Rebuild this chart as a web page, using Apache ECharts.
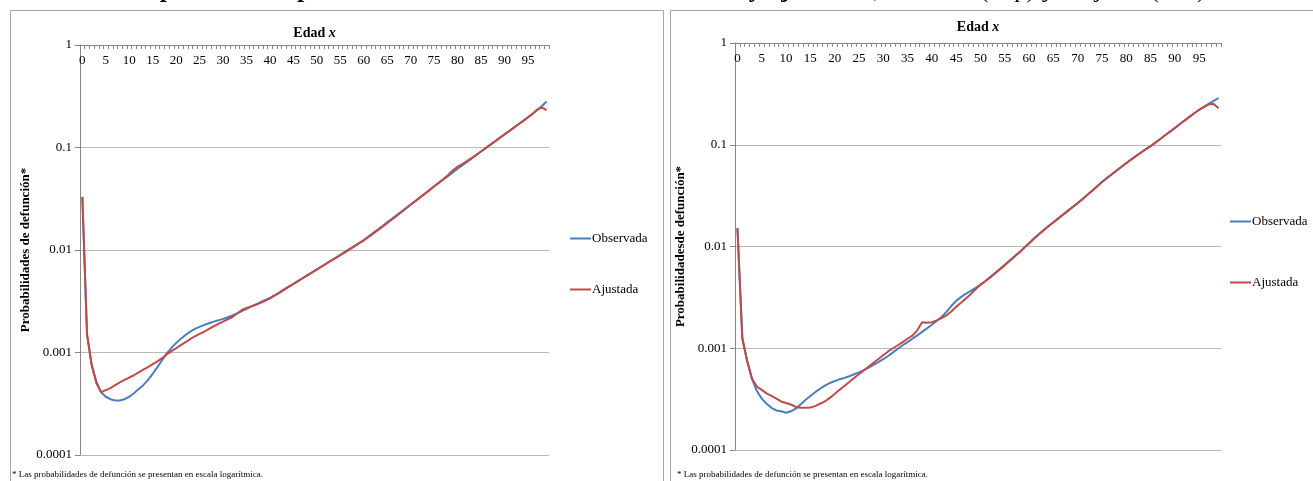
<!DOCTYPE html>
<html>
<head>
<meta charset="utf-8">
<script src="https://cdn.jsdelivr.net/npm/echarts@6/dist/echarts.min.js"></script>
<style>
html,body{margin:0;padding:0;background:#fff;}
#c{width:1313px;height:481px;}
</style>
</head>
<body>
<div id="c"></div>
<script>
// ---------- DATA ----------
const ages = Array.from({length: 100}, (_, i) => String(i));
const yTicks = [1, 0.1, 0.01, 0.001, 0.0001];
const legendNames = ['Observada', 'Ajustada'];

// Left panel
const leftObservada = [
  0.0330, 0.00150, 0.00075, 0.00052, 0.00041, 0.00037, 0.00035, 0.00034, 0.00034, 0.00035,
  0.00037, 0.00040, 0.00044, 0.00048, 0.00054, 0.00062, 0.00072, 0.00084, 0.00098, 0.00111,
  0.00124, 0.00136, 0.00148, 0.00160, 0.00170, 0.00178, 0.00186, 0.00193, 0.00200, 0.00206,
  0.00213, 0.00221, 0.00230, 0.00241, 0.00253, 0.00266, 0.00280, 0.00295, 0.00310, 0.00325,
  0.00340, 0.00362, 0.00386, 0.00412, 0.00440, 0.00468, 0.00500, 0.00533, 0.00568, 0.00606,
  0.00646, 0.00690, 0.00736, 0.00786, 0.00840, 0.00896, 0.00958, 0.01024, 0.01094, 0.01168,
  0.01250, 0.01352, 0.01462, 0.01582, 0.01712, 0.01860, 0.02012, 0.02180, 0.02360, 0.02560,
  0.02780, 0.03010, 0.03260, 0.03530, 0.03830, 0.04160, 0.04510, 0.04880, 0.05280, 0.05720,
  0.06200, 0.06700, 0.07240, 0.07830, 0.08460, 0.09150, 0.09880, 0.10670, 0.11520, 0.12440,
  0.13420, 0.14480, 0.15630, 0.16870, 0.18200, 0.19640, 0.21300, 0.23200, 0.25400, 0.28100
];
const leftAjustada = [
  0.0330, 0.00150, 0.00075, 0.00050, 0.00041, 0.00043, 0.00045, 0.00048, 0.00051, 0.00054,
  0.00057, 0.00060, 0.00064, 0.00068, 0.00072, 0.00077, 0.00082, 0.00088, 0.00096, 0.00103,
  0.00110, 0.00118, 0.00126, 0.00135, 0.00144, 0.00152, 0.00160, 0.00170, 0.00180, 0.00190,
  0.00200, 0.00211, 0.00222, 0.00240, 0.00260, 0.00272, 0.00282, 0.00292, 0.00305, 0.00320,
  0.00338, 0.00358, 0.00382, 0.00408, 0.00436, 0.00466, 0.00498, 0.00530, 0.00566, 0.00604,
  0.00644, 0.00688, 0.00734, 0.00782, 0.00834, 0.00890, 0.00950, 0.01016, 0.01086, 0.01160,
  0.01240, 0.01338, 0.01446, 0.01562, 0.01690, 0.01830, 0.01986, 0.02152, 0.02334, 0.02536,
  0.02760, 0.02996, 0.03250, 0.03530, 0.03840, 0.04180, 0.04540, 0.04930, 0.05400, 0.06000,
  0.06500, 0.06900, 0.07350, 0.07880, 0.08480, 0.09150, 0.09860, 0.10640, 0.11480, 0.12400,
  0.13380, 0.14440, 0.15600, 0.16840, 0.18200, 0.19700, 0.21300, 0.23500, 0.24500, 0.23200
];

// Right panel
const rightObservada = [
  0.0152, 0.00126, 0.00075, 0.00050, 0.00038, 0.00032, 0.000285, 0.000260, 0.000245, 0.000240,
  0.000232, 0.000240, 0.000255, 0.000280, 0.000310, 0.000340, 0.000370, 0.000400, 0.000430, 0.000455,
  0.000475, 0.000495, 0.000510, 0.000530, 0.000555, 0.000580, 0.000610, 0.000645, 0.000685, 0.000730,
  0.000780, 0.000840, 0.000910, 0.000990, 0.001070, 0.001150, 0.001240, 0.001340, 0.001450, 0.001570,
  0.00170, 0.00185, 0.00203, 0.00228, 0.00260, 0.00292, 0.00318, 0.00343, 0.00366, 0.00392,
  0.00420, 0.00458, 0.00500, 0.00548, 0.00600, 0.00660, 0.00728, 0.00800, 0.00880, 0.00975,
  0.0108, 0.0120, 0.0132, 0.0145, 0.0159, 0.0173, 0.0189, 0.0206, 0.0225, 0.0245,
  0.0267, 0.0293, 0.0322, 0.0354, 0.0390, 0.0431, 0.0470, 0.0512, 0.0558, 0.0607,
  0.0660, 0.0716, 0.0776, 0.0838, 0.0903, 0.0970, 0.1050, 0.1140, 0.1240, 0.1345,
  0.1460, 0.1590, 0.1730, 0.1880, 0.2040, 0.2200, 0.2360, 0.2530, 0.2700, 0.2880
];
const rightAjustada = [
  0.0152, 0.00126, 0.00075, 0.00050, 0.00042, 0.00039, 0.00036, 0.00034, 0.00032, 0.00030,
  0.00029, 0.00028, 0.000265, 0.000260, 0.000260, 0.000262, 0.000270, 0.000285, 0.000300, 0.000325,
  0.000355, 0.000390, 0.000425, 0.000465, 0.000510, 0.000555, 0.000605, 0.000660, 0.000720, 0.000785,
  0.000855, 0.000930, 0.001000, 0.001070, 0.001150, 0.001240, 0.001330, 0.001500, 0.001800, 0.001780,
  0.00180, 0.00188, 0.00198, 0.00210, 0.00230, 0.00255, 0.00280, 0.00308, 0.00340, 0.00380,
  0.00420, 0.00456, 0.00496, 0.00544, 0.00596, 0.00655, 0.00722, 0.00795, 0.00875, 0.00968,
  0.0107, 0.0119, 0.0131, 0.0144, 0.0158, 0.0172, 0.0188, 0.0205, 0.0224, 0.0244,
  0.0266, 0.0292, 0.0321, 0.0353, 0.0389, 0.0430, 0.0469, 0.0511, 0.0556, 0.0605,
  0.0658, 0.0714, 0.0773, 0.0835, 0.0900, 0.0968, 0.1048, 0.1138, 0.1238, 0.1343,
  0.1458, 0.1588, 0.1728, 0.1878, 0.2040, 0.2210, 0.2360, 0.2500, 0.2520, 0.2280
];

// ---------- CHART ----------
const FONT = '"Liberation Serif", "Times New Roman", serif';
const BLUE = '#4a7ebb';
const RED = '#be4b48';
const AXIS = '#868686';
const GRID = '#b9b9b9';

function xAxisCfg(gridIndex, gap) {
  return {
    gridIndex, type: 'category', data: ages, position: 'top', boundaryGap: true,
    name: '{b|Edad }{i|x}', nameLocation: 'middle', nameGap: gap,
    nameTextStyle: { rich: {
      b: { fontFamily: FONT, fontWeight: 'bold', fontSize: 14, color: '#000' },
      i: { fontFamily: FONT, fontWeight: 'bold', fontStyle: 'italic', fontSize: 14, color: '#000' }
    }},
    axisLine: { show: true, lineStyle: { color: AXIS, width: 1 } },
    axisTick: { show: true, inside: true, length: 4, interval: 0, lineStyle: { color: AXIS } },
    axisLabel: { inside: true, interval: 4, margin: 9, fontFamily: FONT, fontSize: 13, color: '#000' },
    splitLine: { show: false }
  };
}
function yAxisCfg(gridIndex, name, gap) {
  return {
    gridIndex, type: 'log', logBase: 10, min: yTicks[yTicks.length - 1], max: yTicks[0],
    name, nameLocation: 'middle', nameRotate: 90, nameGap: gap,
    nameTextStyle: { fontFamily: FONT, fontWeight: 'bold', fontSize: 13, color: '#000' },
    axisLine: { show: true, lineStyle: { color: AXIS } },
    axisTick: { show: true, length: 5, lineStyle: { color: AXIS } },
    axisLabel: { margin: 8, fontFamily: FONT, fontSize: 13, color: '#000',
      formatter: v => String(Number(Number(v).toPrecision(1))) },
    splitLine: { show: true, lineStyle: { color: GRID, width: 1 } }
  };
}
function seriesCfg(name, data, idx, color) {
  return {
    name, type: 'line', data, xAxisIndex: idx, yAxisIndex: idx,
    symbol: 'none', smooth: false, lineStyle: { color, width: 2 }, itemStyle: { color },
    emphasis: { disabled: true }, animation: false
  };
}
function legendCfg(left, top, gap) {
  return {
    orient: 'vertical', left, top, itemGap: gap, itemWidth: 21, itemHeight: 2,
    icon: 'rect', data: legendNames,
    textStyle: { fontFamily: FONT, fontSize: 13, color: '#000', padding: [0, 0, 0, -4] }
  };
}

const chart = echarts.init(document.getElementById('c'), null, { renderer: 'canvas' });
chart.setOption({
  animation: false,
  color: [BLUE, RED, BLUE, RED],
  grid: [
    { left: 80, top: 45, width: 469, height: 410 },
    { left: 735, top: 43, width: 486, height: 407 }
  ],
  xAxis: [xAxisCfg(0, 5), xAxisCfg(1, 9)],
  yAxis: [yAxisCfg(0, 'Probabilidades de defunción*', 43), yAxisCfg(1, 'Probabilidadesde defunción*', 42)],
  legend: [legendCfg(565, 227, 38), legendCfg(1225, 210, 48)],
  series: [
    seriesCfg('Observada', leftObservada, 0, BLUE),
    seriesCfg('Ajustada', leftAjustada, 0, RED),
    seriesCfg('Observada', rightObservada, 1, BLUE),
    seriesCfg('Ajustada', rightAjustada, 1, RED)
  ],
  graphic: [
    { type: 'rect', shape: { x: 10.5, y: 10.5, width: 653, height: 480 }, style: { fill: 'none', stroke: '#a6a6a6', lineWidth: 1 }, silent: true },
    { type: 'rect', shape: { x: 670.5, y: 10.5, width: 660, height: 480 }, style: { fill: 'none', stroke: '#a6a6a6', lineWidth: 1 }, silent: true },
    { type: 'text', left: 12, top: 470, style: { text: '* Las probabilidades de defunción se presentan en escala logarítmica.', font: '9px ' + FONT, fill: '#000' }, silent: true },
    { type: 'text', left: 677, top: 470, style: { text: '* Las probabilidades de defunción se presentan en escala logarítmica.', font: '9px ' + FONT, fill: '#000' }, silent: true },
    { type: 'text', x: 656, y: 3, style: {
        text: '{b|Comparación de probabilidades de defunción observadas y ajustadas,} {n|hombres (izq.) y mujeres (der.)}',
        align: 'center', verticalAlign: 'bottom',
        rich: { b: { font: 'bold 26px ' + FONT, fill: '#000' }, n: { font: '26px ' + FONT, fill: '#000' } } }, silent: true }
  ]
});
</script>
</body>
</html>
